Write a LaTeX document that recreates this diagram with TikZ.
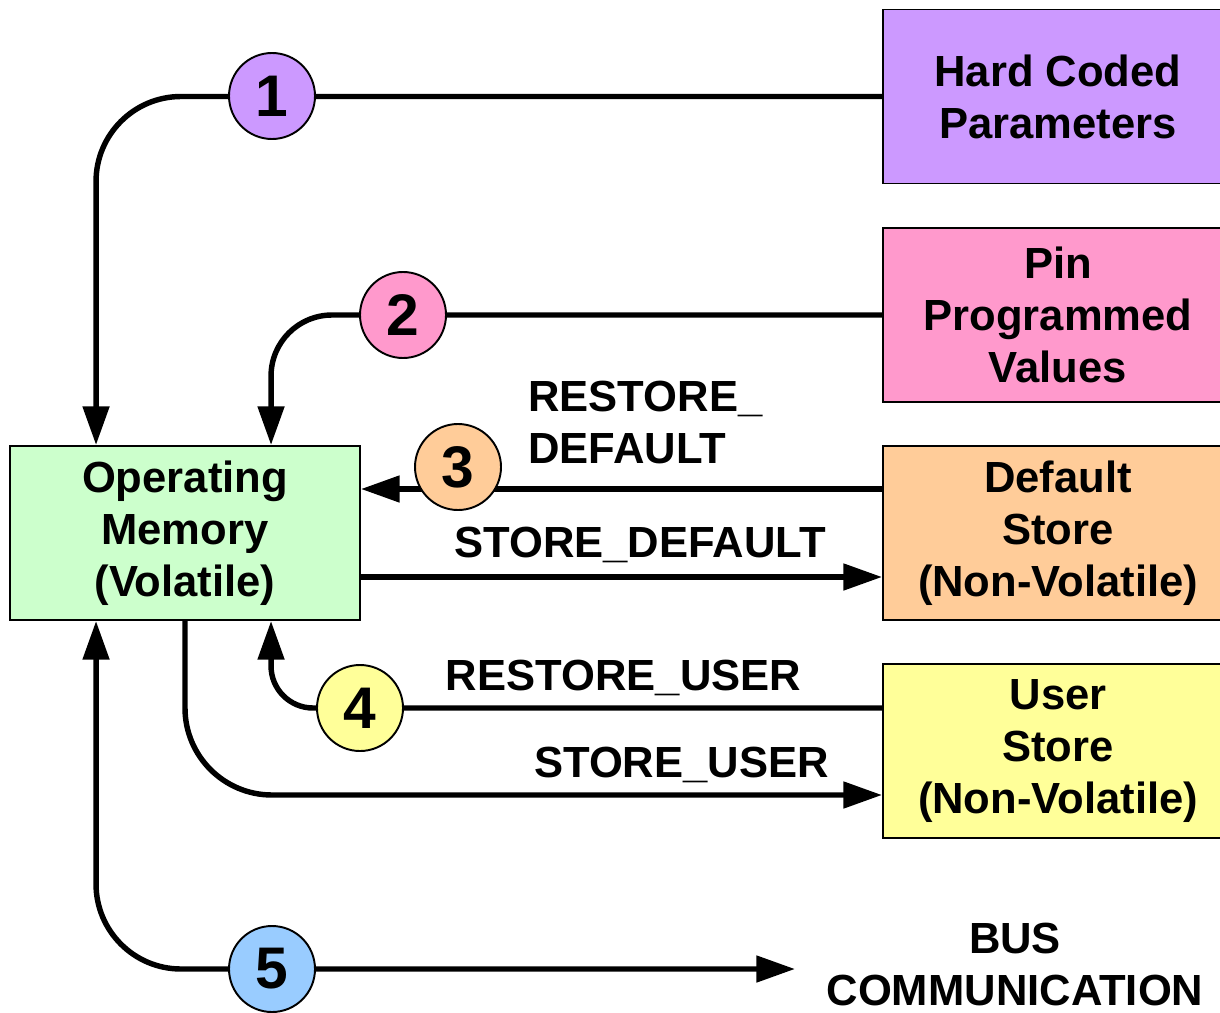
\documentclass[tikz,border=0pt]{standalone}
\usepackage{fontspec}
\setmainfont{Liberation Sans}
\usetikzlibrary{arrows.meta,backgrounds,calc}
\definecolor{hcpcol}{HTML}{CC99FF}
\definecolor{pincol}{HTML}{FF99CC}
\definecolor{dfltcol}{HTML}{FFCC99}
\definecolor{usercol}{HTML}{FFFF99}
\definecolor{memcol}{HTML}{CCFFCC}
\definecolor{buscol}{HTML}{99CCFF}
\newcommand{\boxfont}{\fontsize{24.8}{29.6}\selectfont\bfseries}
\newcommand{\numfont}{\fontsize{33.4}{36}\selectfont\bfseries}
\tikzset{
  bigtip/.tip={Triangle[length=22pt,width=14.7pt]},
  box/.style={draw,line width=1.1pt,minimum width=7cm,minimum height=3.48cm,align=center,font=\boxfont},
  num/.style={circle,draw,line width=1.1pt,minimum size=1.72cm,inner sep=0pt,font=\numfont},
  flow/.style={line width=3.1pt,-bigtip},
  lbl/.style={font=\boxfont,inner sep=0pt}
}

\begin{document}
\begin{tikzpicture}
\useasboundingbox (0,0) rectangle (24.4,-20.24);
\node[box,fill=memcol] (mem) at (3.7,-10.66) {Operating\\Memory\\(Volatile)};
\node[box,fill=hcpcol] (hcp) at (21.16,-1.93) {Hard Coded\\Parameters};
\node[box,fill=pincol] (pin) at (21.16,-6.3) {Pin\\Programmed\\Values};
\node[box,fill=dfltcol] (dflt) at (21.16,-10.66) {Default\\Store\\(Non-Volatile)};
\node[box,fill=usercol] (user) at (21.16,-15.02) {User\\Store\\(Non-Volatile)};
\node[num,fill=hcpcol] (n1) at (5.44,-1.92) {1};
\node[num,fill=pincol] (n2) at (8.06,-6.3) {2};
\node[num,fill=dfltcol] (n3) at (9.16,-9.34) {3};
\node[num,fill=usercol] (n4) at (7.2,-14.16) {4};
\node[num,fill=buscol] (n5) at (5.44,-19.38) {5};
\coordinate (busend) at (15.9,-19.38);
\node[lbl,anchor=north west,align=left] (rd) at (10.56,-7.62) {RESTORE\_\\DEFAULT};
\node[lbl,anchor=base] (sd) at (12.8,-11.14) {STORE\_DEFAULT};
\node[lbl,anchor=base] (ru) at (12.47,-13.8) {RESTORE\_USER};
\node[lbl,anchor=base] (su) at (13.63,-15.54) {STORE\_USER};
\node[lbl,align=center] (bus) at (20.3,-19.28) {BUS\\COMMUNICATION};
\begin{scope}[on background layer]
\draw[flow,rounded corners=1.7cm] (hcp.west) -| ([xshift=1.74cm]mem.north west);
\draw[flow,rounded corners=1.22cm] (pin.west) -| ([xshift=5.24cm]mem.north west);
\draw[flow] ([yshift=0.88cm]dflt.west) -- ([yshift=0.88cm]dflt.west -| mem.east);
\draw[flow] ([yshift=-0.88cm]mem.east) -- ([yshift=-0.88cm]mem.east -| dflt.west);
\draw[flow,rounded corners=0.84cm] ([yshift=0.86cm]user.west) -| ([xshift=5.24cm]mem.south west);
\draw[flow,rounded corners=1.74cm] (mem.south) |- ([yshift=-0.88cm]user.west);
\draw[flow,bigtip-bigtip,rounded corners=1.7cm] ([xshift=1.74cm]mem.south west) |- (busend);
\end{scope}
\end{tikzpicture}
\end{document}
